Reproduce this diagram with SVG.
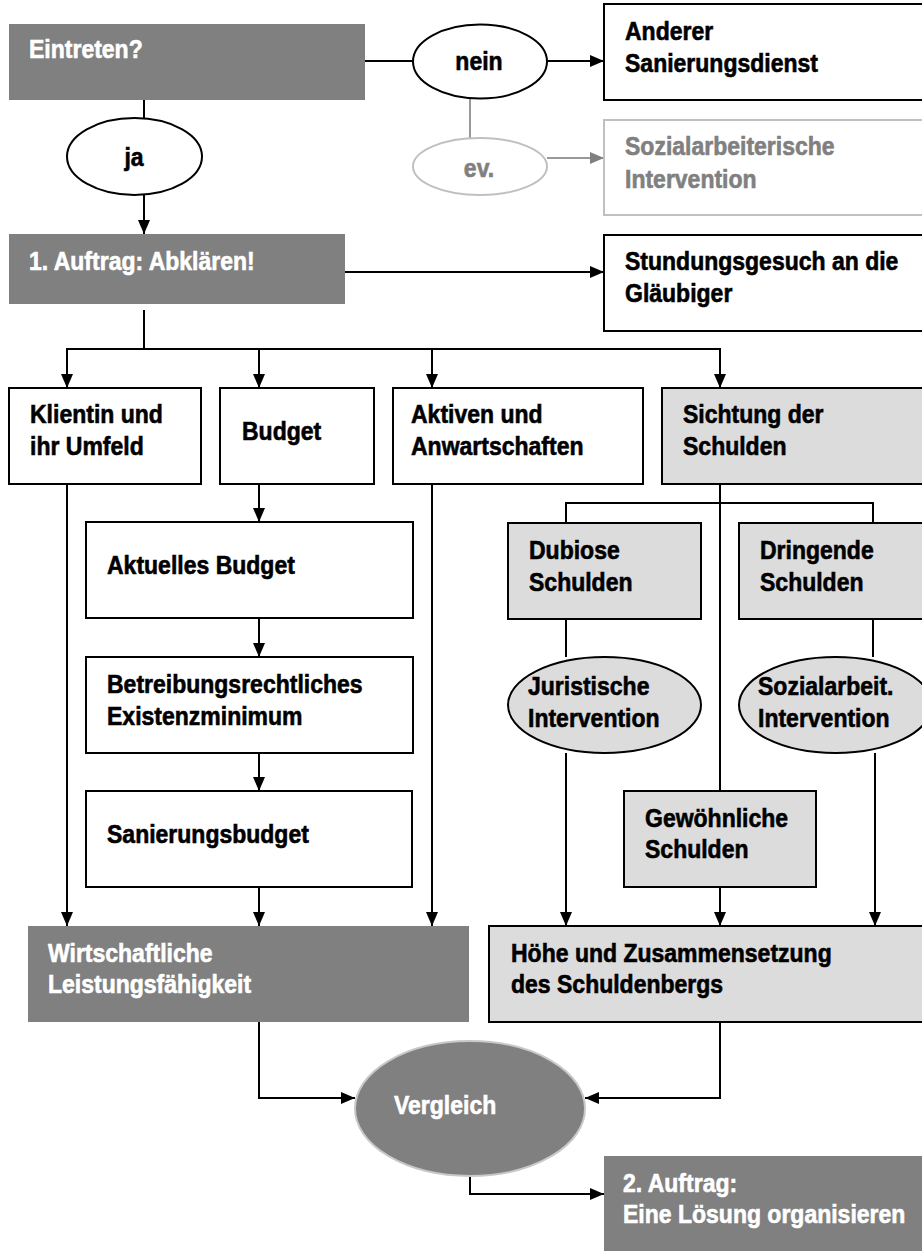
<svg xmlns="http://www.w3.org/2000/svg" width="922" height="1251" viewBox="0 0 922 1251">
<style>
text{font-family:"Liberation Sans",Arial,sans-serif;font-weight:bold;font-size:25px;fill:#000;stroke:#000;stroke-width:.6}
.w{fill:#fff;stroke:#fff}
.g{fill:#808080;stroke:#808080}
.dark{fill:#808080;stroke:none}
.box{fill:#fff;stroke:#000;stroke-width:2}
.lbox{fill:#dcdcdc;stroke:#000;stroke-width:2}
.gbox{fill:#fff;stroke:#c0c0c0;stroke-width:2}
.c{fill:none;stroke:#000;stroke-width:2}
.cg{fill:none;stroke:#999;stroke-width:2}
.a{marker-end:url(#ah)}
.ag{marker-end:url(#ahg)}
</style>
<defs>
<marker id="ah" markerUnits="userSpaceOnUse" markerWidth="14" markerHeight="12" refX="14" refY="6" orient="auto"><path d="M0,0 L14,6 L0,12 z" fill="#000"/></marker>
<marker id="ahg" markerUnits="userSpaceOnUse" markerWidth="14" markerHeight="12" refX="14" refY="6" orient="auto"><path d="M0,0 L14,6 L0,12 z" fill="#808080"/></marker>
</defs>
<rect width="922" height="1251" fill="#fff"/>
<g id="connectors">
<path class="c" d="M365,61 H413"/>
<path class="c a" d="M547,61 H604"/>
<path class="cg" d="M470,98 V138"/>
<path class="cg ag" d="M547,158 H604"/>
<path class="c" d="M144,100 V118"/>
<path class="c a" d="M144,195 V234"/>
<path class="c a" d="M345,272 H604"/>
<path class="c" d="M144,310 V349 M66,349 H721"/>
<path class="c a" d="M67,349 V388"/>
<path class="c a" d="M259,349 V388"/>
<path class="c a" d="M432,349 V388"/>
<path class="c a" d="M720,349 V388"/>
<path class="c a" d="M67,484 V926"/>
<path class="c a" d="M259,484 V522"/>
<path class="c a" d="M259,618 V657"/>
<path class="c a" d="M259,753 V791"/>
<path class="c a" d="M259,887 V926"/>
<path class="c a" d="M432,484 V926"/>
<path class="c" d="M720,484 V791"/>
<path class="c" d="M566,523 V503 H873 V523"/>
<path class="c" d="M566,619 V657"/>
<path class="c" d="M873,619 V657"/>
<path class="c a" d="M566,753 V926"/>
<path class="c a" d="M875,753 V926"/>
<path class="c a" d="M720,887 V926"/>
<path class="c a" d="M259,1022 V1098 H355"/>
<path class="c a" d="M720,1022 V1098 H585"/>
<path class="c a" d="M470,1176 V1194 H604"/>
</g>
<g id="eintreten"><rect class="dark" x="9" y="24" width="356" height="76"/><text class="w" transform="translate(29,58) scale(.92,1)">Eintreten?</text></g>
<g id="nein"><ellipse class="box" cx="480" cy="61.5" rx="67" ry="37"/><text text-anchor="middle" transform="translate(479,70) scale(.92,1)">nein</text></g>
<g id="anderer"><rect class="box" x="604" y="4" width="330" height="96"/><text transform="translate(625,40) scale(.92,1)">Anderer</text><text transform="translate(625,72) scale(.92,1)">Sanierungsdienst</text></g>
<g id="ev"><ellipse class="gbox" cx="480" cy="166.5" rx="67" ry="28.5"/><text class="g" text-anchor="middle" transform="translate(479,177) scale(.92,1)">ev.</text></g>
<g id="sozial"><rect class="gbox" x="604" y="120" width="330" height="95"/><text class="g" transform="translate(625,155) scale(.92,1)">Sozialarbeiterische</text><text class="g" transform="translate(625,188) scale(.92,1)">Intervention</text></g>
<g id="ja"><ellipse class="box" cx="134.5" cy="156.5" rx="67.5" ry="38.5"/><text text-anchor="middle" transform="translate(134,166) scale(.92,1)">ja</text></g>
<g id="auftrag1"><rect class="dark" x="9" y="234" width="336" height="70"/><text class="w" transform="translate(29,270) scale(.92,1)">1. Auftrag: Abklären!</text></g>
<g id="stundung"><rect class="box" x="604" y="235" width="330" height="96"/><text transform="translate(625,270) scale(.92,1)">Stundungsgesuch an die</text><text transform="translate(625,302) scale(.92,1)">Gläubiger</text></g>
<g id="klientin"><rect class="box" x="9" y="388" width="192" height="96"/><text transform="translate(30,423) scale(.92,1)">Klientin und</text><text transform="translate(30,455) scale(.92,1)">ihr Umfeld</text></g>
<g id="budget"><rect class="box" x="220" y="388" width="154" height="96"/><text transform="translate(242,440) scale(.92,1)">Budget</text></g>
<g id="aktiven"><rect class="box" x="393" y="388" width="250" height="96"/><text transform="translate(411,423) scale(.92,1)">Aktiven und</text><text transform="translate(411,455) scale(.92,1)">Anwartschaften</text></g>
<g id="sichtung"><rect class="lbox" x="662" y="388" width="272" height="96"/><text transform="translate(683,423) scale(.92,1)">Sichtung der</text><text transform="translate(683,455) scale(.92,1)">Schulden</text></g>
<g id="aktuelles"><rect class="box" x="86" y="522" width="327" height="96"/><text transform="translate(107,574) scale(.92,1)">Aktuelles Budget</text></g>
<g id="betreibung"><rect class="box" x="86" y="657" width="327" height="96"/><text transform="translate(107,693) scale(.92,1)">Betreibungsrechtliches</text><text transform="translate(107,725) scale(.92,1)">Existenzminimum</text></g>
<g id="sanierung"><rect class="box" x="86" y="791" width="326" height="96"/><text transform="translate(107,843) scale(.92,1)">Sanierungsbudget</text></g>
<g id="dubiose"><rect class="lbox" x="508" y="523" width="193" height="96"/><text transform="translate(529,559) scale(.92,1)">Dubiose</text><text transform="translate(529,591) scale(.92,1)">Schulden</text></g>
<g id="dringende"><rect class="lbox" x="739" y="523" width="195" height="96"/><text transform="translate(760,559) scale(.92,1)">Dringende</text><text transform="translate(760,591) scale(.92,1)">Schulden</text></g>
<g id="juristische"><ellipse class="lbox" cx="604.5" cy="705" rx="96.5" ry="48"/><text transform="translate(528,695) scale(.92,1)">Juristische</text><text transform="translate(528,727) scale(.92,1)">Intervention</text></g>
<g id="sozialarbeit"><ellipse class="lbox" cx="835.5" cy="705" rx="96.5" ry="48"/><text transform="translate(758,695) scale(.92,1)">Sozialarbeit.</text><text transform="translate(758,727) scale(.92,1)">Intervention</text></g>
<g id="gewoehnlich"><rect class="lbox" x="624" y="791" width="192" height="96"/><text transform="translate(645,827) scale(.92,1)">Gewöhnliche</text><text transform="translate(645,858) scale(.92,1)">Schulden</text></g>
<g id="wirtschaft"><rect class="dark" x="28" y="926" width="441" height="96"/><text class="w" transform="translate(48,962) scale(.92,1)">Wirtschaftliche</text><text class="w" transform="translate(48,993) scale(.92,1)">Leistungsfähigkeit</text></g>
<g id="hoehe"><rect class="lbox" x="489" y="926" width="445" height="96"/><text transform="translate(511,962) scale(.92,1)">Höhe und Zusammensetzung</text><text transform="translate(511,993) scale(.92,1)">des Schuldenbergs</text></g>
<g id="vergleich"><ellipse cx="470" cy="1108.5" rx="115" ry="67.5" fill="#808080" stroke="#c8c8c8" stroke-width="2"/><text class="w" transform="translate(394,1114) scale(.92,1)">Vergleich</text></g>
<g id="auftrag2"><rect class="dark" x="604" y="1156" width="330" height="100"/><text class="w" transform="translate(623,1192) scale(.92,1)">2. Auftrag:</text><text class="w" transform="translate(623,1223) scale(.92,1)">Eine Lösung organisieren</text></g>
</svg>
